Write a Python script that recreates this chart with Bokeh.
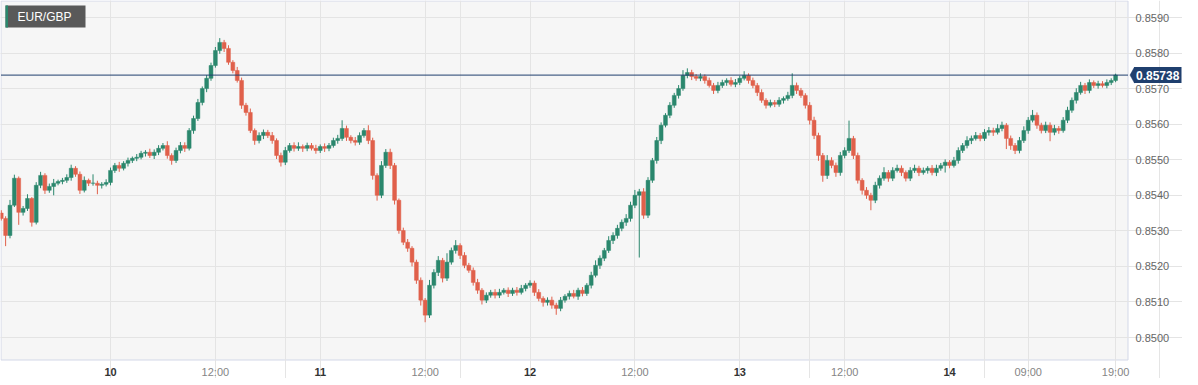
from bokeh.plotting import figure
from bokeh.models import ColumnDataSource, FixedTicker, Range1d, Grid
from bokeh.core.properties import value
from bokeh.embed import file_html
from bokeh.resources import INLINE

symbol = "EUR/GBP"
last_price = 0.85738
first_open_pips = 35.0
base_price = 0.85
interval_h = 0.5
start_h = -12.5   # hours relative to day 10 00:00

close_pips = [
    33.5, 28.7, 37.2, 44.8, 35.2, 36.3, 39.1, 32.4, 42.8, 45.6, 41.4, 42.5, 43.4, 43.9, 44.2, 45.0,
    47.6, 45.9, 41.4, 44.2, 43.4, 43.4, 42.8, 43.1, 43.6, 47.0, 48.4, 47.6, 49.0, 49.8, 50.4, 50.7,
    51.8, 52.1, 51.2, 52.1, 53.2, 54.0, 51.2, 49.8, 52.6, 54.0, 53.2, 58.2, 61.6, 66.1, 70.0, 72.9,
    76.5, 80.7, 83.0, 81.3, 77.4, 75.1, 72.3, 65.3, 63.3, 58.2, 55.4, 56.8, 57.7, 56.8, 55.4, 51.2,
    49.3, 52.6, 54.0, 53.2, 53.7, 53.2, 54.0, 53.2, 52.6, 53.7, 53.2, 54.0, 55.4, 56.0, 58.8, 56.3,
    55.4, 54.9, 56.8, 58.2, 55.4, 45.6, 40.0, 48.4, 52.1, 48.4, 38.6, 30.1, 26.8, 25.1, 21.2, 16.1,
    10.5, 6.3, 14.7, 18.3, 21.7, 16.7, 21.2, 24.5, 25.9, 23.1, 20.3, 18.9, 15.5, 13.3, 10.5, 11.9,
    12.7, 11.9, 12.7, 13.3, 12.4, 13.3, 12.7, 13.8, 14.7, 15.3, 12.7, 11.0, 9.9, 10.5, 9.1, 8.2,
    10.5, 11.6, 12.4, 11.6, 13.3, 12.4, 14.7, 17.5, 20.3, 22.3, 24.5, 27.3, 28.7, 30.7, 32.4, 33.5,
    37.2, 40.0, 41.0, 34.4, 44.2, 49.8, 55.4, 59.7, 62.5, 65.3, 68.1, 70.0, 73.7, 74.5, 73.4, 72.9,
    73.4, 72.3, 70.9, 69.5, 70.9, 71.7, 72.3, 71.2, 71.7, 72.9, 73.7, 72.3, 70.9, 68.9, 66.7, 65.3,
    66.1, 65.6, 66.7, 67.2, 68.1, 70.9, 69.5, 68.1, 65.3, 61.1, 56.8, 51.2, 45.6, 49.8, 48.4, 46.4,
    51.2, 52.6, 56.0, 51.2, 44.2, 41.4, 40.0, 38.6, 42.8, 44.8, 46.4, 44.8, 47.0, 47.6, 46.4, 44.8,
    47.0, 47.6, 46.4, 47.0, 47.6, 46.4, 47.6, 48.4, 49.3, 48.4, 49.8, 52.6, 54.0, 55.4, 56.0, 56.8,
    56.0, 57.7, 58.2, 57.7, 58.8, 59.7, 56.0, 54.0, 52.6, 55.4, 58.2, 61.1, 62.5, 59.7, 58.2, 59.7,
    57.7, 58.8, 58.2, 61.1, 63.9, 66.7, 68.9, 70.9, 69.5, 71.7, 70.9, 71.4, 70.9, 71.7, 72.3, 73.8,
]

upper_wick_pips = [
    0.8, 0.6, 1.5, 1.0, 0.5, 0.7, 1.2, 0.4, 0.9, 1.0, 0.6, 0.8, 1.2, 0.5, 0.7, 0.9,
    1.0, 0.6, 0.8, 1.1, 0.5, 2.5, 0.7, 0.6, 0.9, 0.8, 0.7, 1.0, 0.6, 0.8, 0.5, 0.9,
    0.7, 0.6, 1.0, 0.8, 0.9, 0.7, 1.2, 0.6, 0.8, 1.0, 0.9, 0.7, 0.8, 1.0, 0.6, 0.9,
    0.8, 1.0, 1.2, 0.7, 0.9, 0.6, 1.0, 0.8, 0.7, 1.1, 0.6, 0.9, 0.8, 0.7, 1.0, 0.6,
    0.8, 1.0, 0.7, 0.9, 1.2, 0.6, 0.8, 0.7, 1.0, 0.6, 0.9, 0.7, 0.8, 1.0, 2.3, 0.8,
    0.6, 1.0, 0.9, 0.7, 1.5, 0.8, 0.6, 1.2, 0.9, 1.0, 0.7, 0.5, 0.8, 0.9, 0.6, 0.7,
    0.8, 0.6, 1.5, 0.9, 1.2, 0.7, 2.5, 0.8, 1.5, 0.6, 0.9, 0.7, 0.8, 1.0, 0.6, 0.8,
    0.7, 0.9, 1.0, 0.6, 0.8, 0.7, 0.9, 1.0, 0.6, 0.8, 0.7, 0.9, 0.6, 0.8, 1.0, 0.7,
    0.9, 0.6, 0.8, 1.0, 0.7, 0.9, 0.6, 1.0, 1.4, 0.8, 0.7, 1.2, 0.9, 1.0, 0.8, 1.2,
    1.0, 1.5, 0.8, 1.0, 0.9, 0.7, 1.0, 0.8, 0.6, 0.9, 0.7, 1.0, 1.5, 1.2, 0.8, 0.7,
    0.9, 0.6, 0.8, 0.7, 1.0, 0.8, 0.6, 0.9, 1.0, 0.7, 1.2, 0.6, 0.8, 0.7, 0.9, 0.6,
    0.8, 0.7, 0.9, 0.6, 1.0, 3.4, 0.8, 0.7, 0.6, 0.9, 1.0, 0.8, 0.7, 1.5, 0.9, 0.8,
    1.0, 0.9, 5.0, 0.7, 0.8, 0.6, 0.9, 0.7, 1.0, 0.8, 1.5, 0.7, 0.9, 1.0, 0.8, 0.6,
    0.9, 1.0, 0.7, 0.8, 0.6, 0.9, 1.0, 0.7, 0.8, 0.6, 1.0, 0.9, 0.7, 1.2, 0.8, 1.0,
    0.7, 0.9, 1.0, 0.8, 1.2, 1.0, 0.6, 0.8, 0.7, 1.0, 1.2, 0.9, 1.5, 0.8, 0.7, 1.0,
    0.8, 1.0, 0.7, 0.9, 1.0, 0.8, 1.2, 1.0, 0.7, 0.9, 0.6, 0.8, 0.7, 0.9, 0.6, 0.4,
]

lower_wick_pips = [
    0.6, 3.0, 0.8, 0.5, 3.5, 0.9, 0.7, 1.2, 0.6, 0.8, 1.0, 0.7, 2.5, 0.6, 0.8, 0.7,
    0.9, 0.7, 1.0, 0.6, 0.8, 0.7, 2.5, 0.9, 0.6, 0.8, 0.7, 1.0, 0.6, 0.9, 0.7, 0.8,
    0.6, 0.9, 0.7, 1.0, 0.8, 0.6, 0.9, 1.2, 0.7, 0.8, 1.0, 0.6, 0.9, 0.7, 0.8, 1.0,
    0.7, 0.6, 0.9, 1.0, 0.7, 0.8, 0.6, 1.0, 0.9, 0.7, 1.2, 0.8, 1.0, 0.7, 0.9, 1.0,
    1.2, 0.8, 0.6, 0.9, 0.7, 1.0, 0.8, 0.6, 0.9, 0.7, 1.0, 0.8, 0.6, 0.9, 0.7, 1.0,
    0.8, 0.9, 0.7, 0.6, 1.0, 1.2, 1.5, 0.8, 0.7, 1.0, 1.2, 0.9, 0.8, 1.0, 1.2, 1.0,
    1.5, 2.0, 0.8, 0.9, 1.0, 1.2, 0.8, 0.7, 0.9, 1.0, 0.8, 0.7, 0.9, 1.0, 1.2, 0.8,
    0.7, 0.9, 0.8, 0.6, 1.0, 0.7, 0.9, 0.6, 0.8, 0.7, 1.0, 0.8, 1.2, 0.9, 1.0, 1.8,
    0.8, 0.7, 0.9, 0.6, 1.0, 0.8, 0.7, 0.9, 0.6, 1.0, 0.8, 0.7, 1.0, 0.9, 0.8, 1.0,
    0.9, 0.8, 17.5, 1.0, 0.8, 0.7, 0.9, 1.0, 0.6, 0.8, 0.7, 0.9, 0.6, 0.8, 1.0, 0.7,
    0.8, 0.9, 0.6, 1.0, 0.8, 0.7, 0.9, 0.6, 0.8, 0.7, 0.6, 0.9, 0.8, 1.0, 0.7, 0.9,
    0.6, 0.8, 0.7, 0.9, 0.6, 0.8, 1.0, 0.7, 0.9, 1.2, 1.0, 1.5, 1.8, 1.0, 0.8, 1.2,
    0.9, 0.8, 0.7, 1.0, 0.9, 1.2, 1.0, 2.8, 0.8, 0.9, 0.7, 1.0, 0.8, 0.6, 1.0, 0.9,
    0.8, 0.7, 1.0, 0.6, 0.9, 0.8, 1.0, 0.7, 2.0, 0.8, 0.6, 0.9, 0.7, 0.8, 1.0, 0.6,
    0.8, 0.7, 0.9, 1.0, 0.6, 0.8, 3.0, 1.2, 1.0, 0.8, 0.7, 0.9, 0.6, 1.0, 0.8, 0.7,
    2.5, 0.8, 0.9, 0.6, 0.8, 0.7, 0.9, 0.6, 1.0, 0.8, 0.7, 0.9, 0.6, 0.8, 0.7, 0.5,
]

y_ticks = [0.8500, 0.8510, 0.8520, 0.8530, 0.8540, 0.8550, 0.8560, 0.8570, 0.8580, 0.8590]
y_labels = ["0.8500", "0.8510", "0.8520", "0.8530", "0.8540",
            "0.8550", "0.8560", "0.8570", "0.8580", "0.8590"]
day_ticks = [0, 24, 48, 72, 96]
day_labels = ["10", "11", "12", "13", "14"]
hour_ticks = [12, 36, 60, 84, 105, 115]
hour_labels = ["12:00", "12:00", "12:00", "12:00", "09:00", "19:00"]

GREEN = "#2a876d"
RED = "#e0604b"
NAVY = "#1f3f6e"
FONT = "Liberation Sans"

# ---- build OHLC ----
n = len(close_pips)
opens, closes, highs, lows, times, colors = [], [], [], [], [], []
prev = first_open_pips
for i in range(n):
    o = prev
    c = close_pips[i]
    hi = max(o, c) + upper_wick_pips[i]
    lo = min(o, c) - lower_wick_pips[i]
    opens.append(base_price + o / 10000)
    closes.append(base_price + c / 10000)
    highs.append(base_price + hi / 10000)
    lows.append(base_price + lo / 10000)
    times.append(start_h + interval_h * i)
    colors.append(GREEN if c >= o else RED)
    prev = c

src = ColumnDataSource(dict(
    t=times, open=opens, close=closes, high=highs, low=lows,
    top=[max(a, b) for a, b in zip(opens, closes)],
    bottom=[min(a, b) for a, b in zip(opens, closes)],
    color=colors,
))

# ---- geometry: canvas pixels -> data units ----
W, H = 1182, 378
PX_PER_H = 8.74      # horizontal pixels per hour
X_DAY0 = 110         # pixel of day-10 00:00
PX_PER_MILLI = 35.56  # vertical pixels per 0.0010
Y_8590 = 17          # pixel of 0.8590


def tx(X):
    return (X - X_DAY0) / PX_PER_H


def py(Y):
    return 0.8590 - (Y - Y_8590) / PX_PER_MILLI * 0.001


PLOT_R, PLOT_B = 1127.5, 359.5

p = figure(width=W, height=H, x_range=Range1d(tx(0), tx(W)), y_range=Range1d(py(H), py(0)),
           x_axis_location=None, y_axis_location=None, min_border=0,
           output_backend="svg", toolbar_location=None, title=None)
p.outline_line_color = None
p.background_fill_color = "white"
p.border_fill_color = "white"

# plot panel background + frame
panel = p.quad(left=tx(0.5), right=tx(PLOT_R), top=py(0.5), bottom=py(PLOT_B),
               fill_color="#f6f6f6", line_color="#d3d8e8", line_width=1)
panel.level = "image"

p.add_layout(Grid(dimension=1, ticker=FixedTicker(ticks=y_ticks),
                  bounds=(tx(1), tx(PLOT_R - 0.5)), grid_line_color="#e4e4e4"))
p.add_layout(Grid(dimension=0, ticker=FixedTicker(ticks=sorted(day_ticks + hour_ticks)),
                  bounds=(py(PLOT_B - 0.5), py(1)), grid_line_color="#e4e4e4"))

# candles
p.segment(x0="t", y0="low", x1="t", y1="high", source=src, line_color="color", line_width=1)
p.vbar(x="t", width=0.44, top="top", bottom="bottom", source=src,
       fill_color="color", line_color="color", line_width=0.5)

# price axis labels (right)
p.text(x=[tx(1135)] * len(y_ticks), y=y_ticks, text=y_labels,
       text_font=value(FONT), text_font_size=value("11px"), text_color="#666666",
       text_align="left", text_baseline="middle")

# time axis labels (below)
p.text(x=hour_ticks, y=[py(371)] * len(hour_ticks), text=hour_labels,
       text_font=value(FONT), text_font_size=value("11px"), text_color="#858585",
       text_align="center", text_baseline="middle")
p.text(x=day_ticks, y=[py(371)] * len(day_ticks), text=day_labels,
       text_font=value(FONT), text_font_size=value("11px"), text_font_style="bold",
       text_color="#333333", text_align="center", text_baseline="middle")

# last price line and tag
p.segment(x0=tx(0.5), y0=last_price, x1=tx(PLOT_R), y1=last_price, line_color=NAVY, line_width=1)
tag_half = 8 / PX_PER_MILLI * 0.001
p.patch(x=[tx(1129.5), tx(1134), tx(1134)],
        y=[last_price, last_price + tag_half, last_price - tag_half],
        fill_color=NAVY, line_color=NAVY, line_width=0.5)
p.quad(left=tx(1133.5), right=tx(1181), top=last_price + tag_half, bottom=last_price - tag_half,
       fill_color=NAVY, line_color=None)
p.text(x=[tx(1135.5)], y=[last_price], text=[f"{last_price:.5f}"],
       text_font=value(FONT), text_font_size=value("12px"), text_font_style="bold",
       text_color="white", text_align="left", text_baseline="middle")

# symbol badge
p.quad(left=tx(5), right=tx(85), top=py(5), bottom=py(27), fill_color="#595959", line_color=None)
p.quad(left=tx(5), right=tx(7.5), top=py(5), bottom=py(27), fill_color=GREEN, line_color=None)
p.text(x=[tx(17)], y=[py(16.5)], text=[symbol],
       text_font=value(FONT), text_font_size=value("12px"), text_color="white",
       text_align="left", text_baseline="middle")

open("out.html", "w").write(file_html(p, INLINE))
